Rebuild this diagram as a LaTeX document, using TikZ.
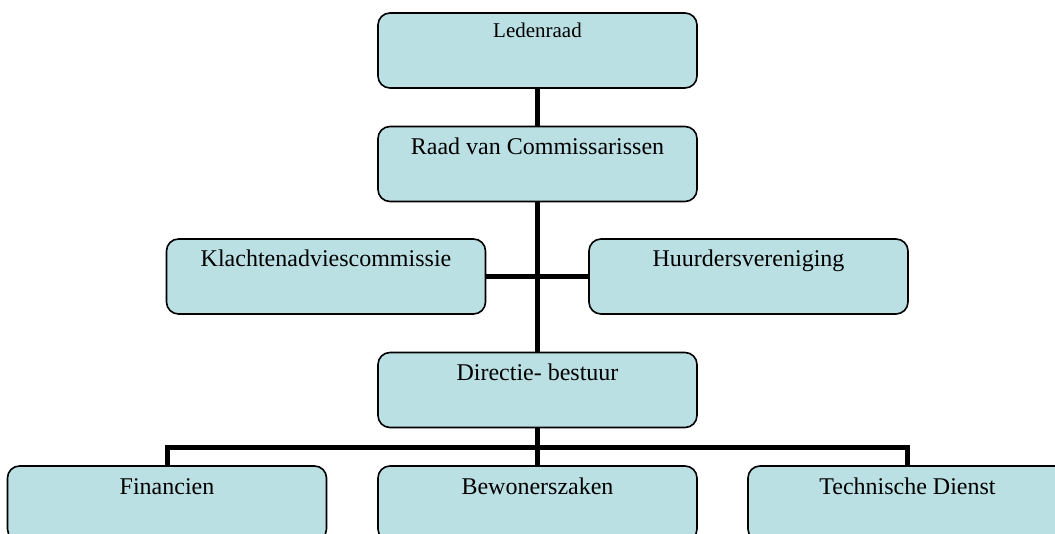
\documentclass[tikz,border=0pt]{standalone}
\usepackage{fontspec}
\setmainfont{Liberation Serif}
\definecolor{boxfill}{RGB}{186,224,228}
\begin{document}
\begin{tikzpicture}[x=1pt,y=-1pt,
  orgbox/.style={draw=black,line width=1.6pt,fill=boxfill,rounded corners=12pt,
    inner sep=0pt,minimum width=319pt,text height=28pt,text depth=47pt,
    font=\fontsize{24}{28}\selectfont},
  link/.style={line width=5pt}]
\useasboundingbox (0,0) rectangle (1055,534);
% units are pixels of the 1055 x 534 page, y growing downwards
\node[orgbox,text height=25pt,text depth=50pt,font=\fontsize{21}{25}\selectfont]
  (leden) at (537.5,50.5) {Ledenraad};
\node[orgbox] (raad) at (537.5,164) {Raad van Commissarissen};
\node[orgbox] (klacht) at (326,276.5) {Klachtenadviescommissie};
\node[orgbox] (huur) at (748.5,276.5) {Huurdersvereniging};
\node[orgbox] (dir) at (537.5,390) {Directie- bestuur};
\node[orgbox] (fin) at (167,503.5) {Financien};
\node[orgbox] (bew) at (537.5,503.5) {Bewonerszaken};
\node[orgbox] (tech) at (907.5,503.5) {Technische Dienst};
\coordinate (bus) at (537.5,447);
% connectors
\draw[link] (leden.south) -- (raad.north);
\draw[link] (raad.south) -- (dir.north);
\draw[link] (klacht.east) -- (huur.west);
\draw[link] (dir.south) -- (bew.north);
\draw[link] (fin.north) |- (bus) -| (tech.north);
\end{tikzpicture}
\end{document}
